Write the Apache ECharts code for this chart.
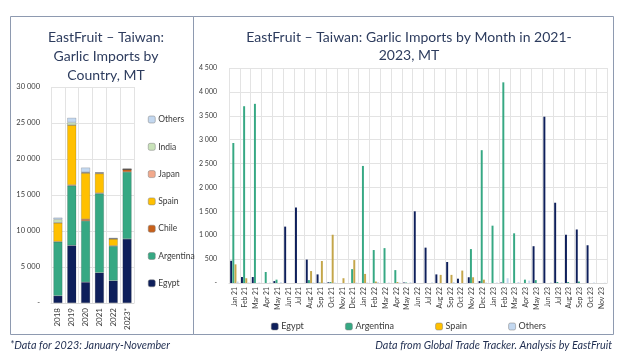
<!DOCTYPE html>
<html><head><meta charset="utf-8">
<script src="https://cdn.jsdelivr.net/npm/echarts@6/dist/echarts.min.js"></script>
<style>html,body{margin:0;padding:0;background:#fff}#c{width:625px;height:364px}</style>
</head><body><div id="c"></div>
<script>
// Annual chart
const years = ['2018','2019','2020','2021','2022','2023*'];
const yEgypt = [1000, 8000, 2900, 4200, 3100, 8900];
const yArgentina = [7500, 8300, 8500, 11000, 4800, 9300];
const yChile = [30, 100, 250, 80, 50, 350];
const ySpain = [2600, 8300, 6400, 2700, 950, 0];
const yJapan = [30, 20, 30, 60, 20, 20];
const yIndia = [450, 350, 80, 50, 30, 30];
const yOthers = [250, 650, 650, 50, 80, 50];
const annualTicks = [0, 5000, 10000, 15000, 20000, 25000, 30000];

// Monthly chart
const months = ['Jan 21','Feb 21','Mar 21','Apr 21','May 21','Jun 21','Jul 21','Aug 21','Sep 21','Oct 21','Nov 21','Dec 21',
 'Jan 22','Feb 22','Mar 22','Apr 22','May 22','Jun 22','Jul 22','Aug 22','Sep 22','Oct 22','Nov 22','Dec 22',
 'Jan 23','Feb 23','Mar 23','Apr 23','May 23','Jun 23','Jul 23','Aug 23','Sep 23','Oct 23','Nov 23'];
const mEgypt =     [465,125,125,0,40,1180,1580,490,180,15,0,0, 0,0,0,0,10,1500,740,180,440,90,120,40, 0,10,0,0,770,3480,1680,1010,1120,790,0];
const mArgentina = [2930,3700,3750,230,70,0,0,60,10,20,0,290, 2450,690,730,270,10,0,0,0,0,0,710,2780, 1200,4200,1040,70,60,0,20,20,30,0,0];
const mSpain =     [390,100,0,0,0,0,0,250,460,1010,100,480, 190,30,0,20,0,0,0,170,170,260,120,70, 0,0,0,0,0,0,0,0,0,0,0];
const mOthers =    [30,10,10,10,15,0,0,10,10,10,0,10, 10,20,10,10,15,0,10,0,20,0,0,10, 10,100,20,50,0,10,10,0,0,10,5];
const monthTicks = [0,500,1000,1500,2000,2500,3000,3500,4000,4500];

const C = {egypt:'#0E1F5B', arg:'#36A883', chile:'#C8601A', spain:'#FFC000', spainM:'#C4A64A', japan:'#F2A98C', india:'#C9E3B9', others:'#C3D8F0'};
const FONT = 'Lato, "Open Sans", sans-serif';
const txt = '#3A3A3A';
const titleColor = '#2D3C5E';

function fmt(v){ if(v===0) return '-'; return String(v).replace(/\B(?=(\d{3})+(?!\d))/g,' '); }

const chart = echarts.init(document.getElementById('c'), null, {renderer:'canvas'});

function annualSeries(name, data, color){
  return {name, type:'bar', stack:'a', xAxisIndex:0, yAxisIndex:0, data, barCategoryGap:'35%',
    itemStyle:{color, borderColor:'rgba(40,40,40,0.35)', borderWidth:0.5}};
}
function monthSeries(name, data, color){
  return {name, type:'bar', xAxisIndex:1, yAxisIndex:1, data, barGap:'10%', barCategoryGap:'22%',
    itemStyle:{color}};
}
const legendItem = {borderColor:'#7F7F7F', borderWidth:0.5};

chart.setOption({
  animation:false,
  backgroundColor:'#fff',
  textStyle:{fontFamily:FONT},
  graphic:[
    {type:'rect', shape:{x:10.5, y:16.5, width:183, height:318}, style:{fill:'none', stroke:'#8E9AB0', lineWidth:1}},
    {type:'rect', shape:{x:193.5, y:16.5, width:420, height:318}, style:{fill:'none', stroke:'#8E9AB0', lineWidth:1}},
    {type:'text', left:10, top:340, style:{text:'*Data for 2023: January-November', font:'italic 10.8px '+FONT, fill:'#1F2D50'}},
    {type:'text', right:13, top:340, style:{text:'Data from Global Trade Tracker. Analysis by EastFruit', font:'italic 10.8px '+FONT, fill:'#1F2D50'}}
  ],
  title:[
    {text:'EastFruit – Taiwan:\nGarlic Imports by\nCountry, MT', left:101, top:23, textAlign:'center',
      textStyle:{fontSize:14, fontWeight:'normal', color:titleColor, lineHeight:19, fontFamily:FONT}},
    {text:'EastFruit – Taiwan: Garlic Imports by Month in 2021-\n2023, MT', left:404, top:23, textAlign:'center',
      textStyle:{fontSize:14, fontWeight:'normal', color:titleColor, lineHeight:18, fontFamily:FONT}}
  ],
  legend:[
    {orient:'vertical', left:143, top:110, itemWidth:7, itemHeight:7, itemGap:18.3,
      data:['Others','India','Japan','Spain','Chile','Argentina','Egypt'],
      textStyle:{fontSize:8.5, color:txt, fontFamily:FONT, padding:[0,0,0,-2]},
      itemStyle:legendItem},
    {orient:'horizontal', left:266, top:317, itemWidth:7, itemHeight:7, itemGap:39,
      data:['Egypt ','Argentina ',{name:'Spain ', itemStyle:{color:C.spain}},'Others '],
      textStyle:{fontSize:9, color:txt, fontFamily:FONT, padding:[0,0,0,-2]},
      itemStyle:legendItem}
  ],
  grid:[
    {left:51, right:491, top:87, bottom:61},
    {left:229, right:18, top:68, bottom:81}
  ],
  xAxis:[
    {type:'category', gridIndex:0, data:years,
      axisLine:{show:true, lineStyle:{color:'#D9D9D9'}}, axisTick:{show:false},
      axisLabel:{rotate:90, fontSize:8, color:txt, margin:5, fontFamily:FONT},
      splitLine:{show:true, lineStyle:{color:'#E3E3E3', width:1}}},
    {type:'category', gridIndex:1, data:months,
      axisLine:{show:true, lineStyle:{color:'#D9D9D9'}}, axisTick:{show:false},
      axisLabel:{rotate:90, fontSize:6.8, color:txt, margin:4, interval:0, fontFamily:FONT},
      splitLine:{show:true, interval:0, lineStyle:{color:'#E3E3E3', width:1}}}
  ],
  yAxis:[
    {type:'value', gridIndex:0, min:annualTicks[0], max:annualTicks[annualTicks.length-1], interval:annualTicks[1]-annualTicks[0],
      axisLine:{show:false}, axisTick:{show:false},
      axisLabel:{fontSize:7.5, color:txt, margin:11, formatter:fmt, fontFamily:FONT},
      splitLine:{lineStyle:{color:'#E3E3E3'}}},
    {type:'value', gridIndex:1, min:monthTicks[0], max:monthTicks[monthTicks.length-1], interval:monthTicks[1]-monthTicks[0],
      axisLine:{show:false}, axisTick:{show:false},
      axisLabel:{fontSize:7, color:txt, margin:12, formatter:fmt, fontFamily:FONT},
      splitLine:{lineStyle:{color:'#E3E3E3'}}}
  ],
  series:[
    annualSeries('Egypt', yEgypt, C.egypt),
    annualSeries('Argentina', yArgentina, C.arg),
    annualSeries('Chile', yChile, C.chile),
    annualSeries('Spain', ySpain, C.spain),
    annualSeries('Japan', yJapan, C.japan),
    annualSeries('India', yIndia, C.india),
    annualSeries('Others', yOthers, C.others),
    monthSeries('Egypt ', mEgypt, C.egypt),
    monthSeries('Argentina ', mArgentina, C.arg),
    monthSeries('Spain ', mSpain, C.spainM),
    monthSeries('Others ', mOthers, C.others)
  ]
});
</script>
</body></html>
